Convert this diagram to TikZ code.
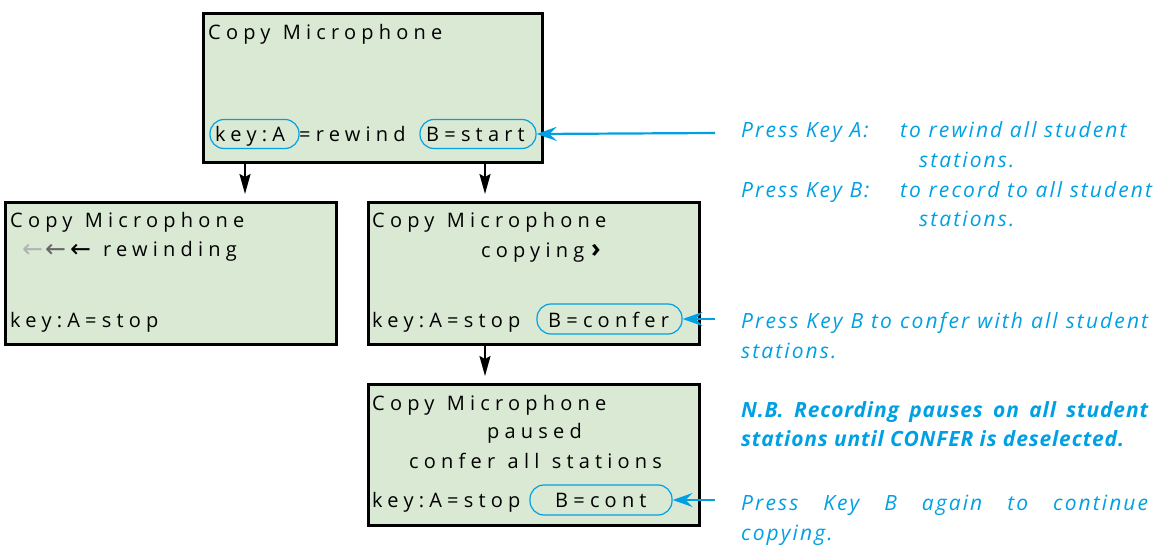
\documentclass[tikz,border=0pt]{standalone}
\usepackage{fontspec}
\setmainfont{Open Sans}
\newfontfamily\lcdfont{Open Sans}[LetterSpace=26, WordSpace=1.2]
\newfontfamily\notefont{Open Sans}[LetterSpace=10]
\newfontfamily\noteboldfont{Open Sans}[LetterSpace=4]
\newfontfamily\arrowfont{DejaVu Sans}
\usetikzlibrary{arrows.meta,calc}
\definecolor{lcdgreen}{RGB}{218,233,212}
\definecolor{noteblue}{RGB}{0,160,227}

\begin{document}
\begin{tikzpicture}[x=1pt, y=-1pt,
    screen/.style={draw, line width=3pt, fill=lcdgreen, anchor=north west},
    lcd/.style={anchor=base west, inner sep=0pt, font={\lcdfont\fontsize{20}{24}\selectfont}},
    keyoval/.style={draw=noteblue, line width=1.2pt, rounded corners=14pt, minimum height=29pt, inner sep=0pt},
    note/.style={anchor=base west, inner sep=0pt, align=left, text=noteblue, font={\notefont\itshape\fontsize{21}{29.7}\selectfont}},
    flow/.style={line width=2pt, -{Stealth[length=20pt, width=11pt, inset=3pt]}},
    press/.style={line width=2.2pt, noteblue, -{Stealth[length=20pt, width=14pt, inset=7pt]}}]
    \useasboundingbox (0,0) rectangle (1154,545);

    \node (copymic) at (202,12)
      [screen, minimum width=339pt, minimum height=149pt] {};
    \node (rewinding) at (4,201)
      [screen, minimum width=331pt, minimum height=142pt] {};
    \node (copying) at (367,201)
      [screen, minimum width=331pt, minimum height=142pt] {};
    \node (paused) at (367,383)
      [screen, minimum width=331pt, minimum height=141pt] {};

    \node (copymictitle) at (208,40) [lcd] {Copy Microphone};
    \node (keyaoval) at (254.5,134) [keyoval, minimum width=89pt] {};
    \node (keyatext) at (215,142) [lcd] {key:A};
    \node (rewindtext) at (299,142) [lcd] {=rewind};
    \node (bstart) at (478,134) [keyoval, minimum width=116pt] {};
    \node (bstarttext) at (426,142) [lcd] {B=start};

    \node (rewindingtitle) at (10,228) [lcd] {Copy Microphone};
    \node (rewindarrows) at (22,258) [lcd]
      {\arrowfont\fontsize{25}{25}\selectfont{\color{black!30}←}\kern2pt{\color{black!60}←}\kern4pt←};
    \node (rewindingstate) at (103,257) [lcd] {rewinding};
    \node (rewindingkeys) at (10,327) [lcd] {key:A=stop};

    \node (copyingtitle) at (372,228) [lcd] {Copy Microphone};
    \node (copyingstate) at (481,258) [lcd] {copying\kern7pt{\bfseries\fontsize{26}{26}\selectfont ›}};
    \node (copyingkeys) at (372,327) [lcd] {key:A=stop};
    \node (bconfer) at (609.5,319) [keyoval, minimum width=145pt, minimum height=30pt] {};
    \node (bconfertext) at (548,327) [lcd] {B=confer};

    \node (pausedtitle) at (372,410) [lcd] {Copy Microphone};
    \node (pausedstate) at (487,438) [lcd] {paused};
    \node (pausedconfer) at (409,468) [lcd] {confer all stations};
    \node (pausedkeys) at (372,507) [lcd] {key:A=stop};
    \node (bcont) at (601,500) [keyoval, minimum width=142pt, minimum height=30pt] {};
    \node (bconttext) at (555,507) [lcd] {B=cont};

    \draw[flow] ($(copymic.south west)+(43,0)$) -- ($(rewinding.north west)+(241,-7)$);
    \draw[flow] ($(copymic.south west)+(283,0)$) -- ($(copying.north west)+(118,-7)$);
    \draw[flow] ($(copying.south west)+(118,0)$) -- ($(paused.north west)+(118,-7)$);

    \node (notestart) at (741,227) [note]
      {\makebox[159pt][l]{Press Key A:}to rewind all student\\\hspace*{178pt}stations.\\
       \makebox[159pt][l]{Press Key B:}to record to all student\\\hspace*{178pt}stations.};
    \node (noteconfer) at (741,358) [note]
      {\makebox[407pt][s]{Press Key B to confer with all student}\\stations.};
    \node (notepause) at (741,446) [note, font={\noteboldfont\bfseries\itshape\fontsize{21}{29}\selectfont}]
      {\makebox[407pt][s]{N.B. Recording pauses on all student}\\stations until CONFER is deselected.};
    \node (notecont) at (741,540) [note]
      {\makebox[407pt][s]{Press Key B again to continue}\\copying.};

    \coordinate (startpress) at (715,133);
    \coordinate (conferpress) at (715,319);
    \coordinate (contpress) at (715,500);
    \draw[press] (startpress) -- (bstart.east);
    \draw[press] (conferpress) -- (bconfer.east);
    \draw[press] (contpress) -- (bcont.east);
  \end{tikzpicture}
\end{document}
